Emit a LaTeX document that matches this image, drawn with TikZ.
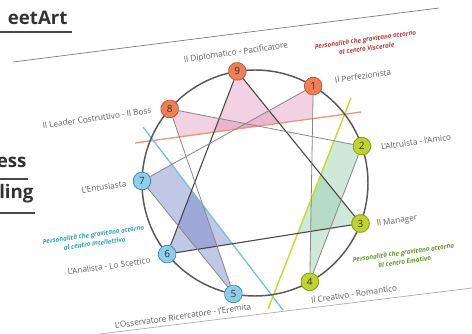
\documentclass[tikz,border=0pt]{standalone}
\usepackage{fontspec}
\setmainfont{Open Sans}
\usetikzlibrary{shapes.geometric}
\tikzset{every picture/.style={line width=0.75pt}}

\definecolor{visfill}{RGB}{238,128,88}
\definecolor{visdraw}{RGB}{196,86,58}
\definecolor{intfill}{RGB}{142,206,234}
\definecolor{intdraw}{RGB}{72,140,178}
\definecolor{emofill}{RGB}{190,212,44}
\definecolor{emodraw}{RGB}{132,156,28}
\definecolor{ringgray}{RGB}{88,88,88}
\definecolor{labgray}{RGB}{95,95,95}
\definecolor{viscred}{RGB}{196,52,52}
\definecolor{intblue}{RGB}{40,160,200}
\definecolor{emogreen}{RGB}{96,150,40}

\tikzset{
  numbox/.style={regular polygon, regular polygon sides=8, rounded corners=1.2pt, minimum size=14pt, inner sep=0pt, line width=0.6pt, text={rgb,255:red,60;green,50;blue,40}, font=\fontsize{7.5}{8}\selectfont},
  visc/.style={numbox, draw=visdraw, fill=visfill},
  intel/.style={numbox, draw=intdraw, fill=intfill},
  emot/.style={numbox, draw=emodraw, fill=emofill},
  tipo/.style={text=labgray, font=\fontsize{6.2}{7}\selectfont, rotate=8, inner sep=0.75pt},
  centro/.style={font=\fontsize{4.8}{6.8}\selectfont\itshape\bfseries, rotate=8, align=center, inner sep=0.75pt},
  webfrag/.style={text={rgb,255:red,50;green,50;blue,50}, font=\fontsize{14}{16}\selectfont\bfseries, inner sep=0pt},
  tri/.style={color={rgb,255:red,70;green,70;blue,70}, line width=0.8},
  hex/.style={color={rgb,255:red,135;green,135;blue,135}, line width=0.6},
  pinkfill/.style={fill={rgb,255:red,222;green,140;blue,182}, fill opacity=0.4},
  bluefill/.style={fill={rgb,255:red,118;green,132;blue,200}, fill opacity=0.45},
  greenfill/.style={fill={rgb,255:red,150;green,205;blue,172}, fill opacity=0.45}
}

\begin{document}
\begin{tikzpicture}[x=0.75pt,y=0.75pt,yscale=-1,xscale=1]
\useasboundingbox (0,0) rectangle (472,334);

%Straight Lines: sheet edges
\draw [color={rgb,255:red,120;green,120;blue,120}, line width=0.5] (13,62) -- (439,8) ;
\draw [color={rgb,255:red,170;green,170;blue,170}, line width=0.5] (100,334) -- (472,288) ;

% Text Node: page fragments
\node [webfrag, anchor=base east] (w1) at (68,25) {eetArt};
\draw [color={rgb,255:red,70;green,70;blue,70}, line width=0.8] (0,32) -- (72,32) ;
\node [webfrag, anchor=base east] (w2) at (27,168) {ess};
\draw [color={rgb,255:red,70;green,70;blue,70}, line width=0.8] (0,179) -- (28,179) ;
\node [webfrag, anchor=base east] (w3) at (34,199) {ling};
\draw [color={rgb,255:red,70;green,70;blue,70}, line width=0.8] (0,213) -- (35,213) ;

% Coordinates of the nine points
\coordinate (c9) at (237.3,71.4) ;
\coordinate (c1) at (313.2,86.1) ;
\coordinate (c2) at (361.8,146.2) ;
\coordinate (c3) at (360.5,223.5) ;
\coordinate (c4) at (309.8,281.8) ;
\coordinate (c5) at (233.4,293.9) ;
\coordinate (c6) at (167.2,254.1) ;
\coordinate (c7) at (142,181) ;
\coordinate (c8) at (169.7,108.9) ;
% ends of the three separation lines
\coordinate (vA) at (135,143) ;
\coordinate (vB) at (361,112) ;
\coordinate (iA) at (143,127) ;
\coordinate (iB) at (283,310) ;
\coordinate (eA) at (351,98) ;
\coordinate (eB) at (268,309) ;

%Shape: shaded wedges
\fill [pinkfill] (c8) -- (intersection of c8--c2 and vA--vB) -- (intersection of c8--c5 and vA--vB) -- cycle ;
\fill [pinkfill] (c9) -- (intersection of c9--c6 and vA--vB) -- (intersection of c9--c3 and vA--vB) -- cycle ;
\fill [pinkfill] (c1) -- (intersection of c1--c7 and vA--vB) -- (intersection of c1--c4 and vA--vB) -- cycle ;
\fill [bluefill] (c7) -- (intersection of c7--c1 and iA--iB) -- (intersection of c5--c8 and iA--iB) -- (c5) -- cycle ;
\fill [bluefill] (c6) -- (intersection of c6--c9 and iA--iB) -- (intersection of c6--c3 and iA--iB) -- cycle ;
\fill [greenfill] (c2) -- (intersection of c2--c8 and eA--eB) -- (intersection of c4--c1 and eA--eB) -- (c4) -- cycle ;
\fill [greenfill] (c3) -- (intersection of c3--c9 and eA--eB) -- (intersection of c3--c6 and eA--eB) -- cycle ;

%Straight Lines: separation lines
\draw [color={rgb,255:red,238;green,150;blue,118}, line width=1] (vA) -- (vB) ;
\draw [color={rgb,255:red,112;green,196;blue,224}, line width=1] (iA) -- (iB) ;
\draw [color={rgb,255:red,196;green,220;blue,52}, line width=1.1] (eA) -- (eB) ;

%Shape: Circle
\draw [color=ringgray, line width=1.1] (255,183) circle [radius=113] ;

% Points
\node [visc] (p9) at (c9) {9};
\node [visc] (p1) at (c1) {1};
\node [emot] (p2) at (c2) {2};
\node [emot] (p3) at (c3) {3};
\node [emot] (p4) at (c4) {4};
\node [intel] (p5) at (c5) {5};
\node [intel] (p6) at (c6) {6};
\node [intel] (p7) at (c7) {7};
\node [visc] (p8) at (c8) {8};

%Straight Lines: triangle
\draw [tri] (p9) -- (p3) ;
\draw [tri] (p3) -- (p6) ;
\draw [tri] (p6) -- (p9) ;
%Straight Lines: hexad
\draw [hex] (p1) -- (p4) ;
\draw [hex] (p4) -- (p2) ;
\draw [hex] (p2) -- (p8) ;
\draw [hex] (p8) -- (p5) ;
\draw [hex] (p5) -- (p7) ;
\draw [hex] (p7) -- (p1) ;

% Text Node
\node [tipo] (l9) at (236,53) {Il Diplomatico - Pacificatore};
\node [tipo] (l1) at (363,76) {Il Perfezionista};
\node [tipo] (l2) at (416,142) {L'Altruista - l'Amico};
\node [tipo] (l3) at (397,221) {Il Manager};
\node [tipo] (l4) at (354,294) {Il Creativo - Romantico};
\node [tipo] (l5) at (183,316) {L'Osservatore Ricercatore - l'Eremita};
\node [tipo] (l6) at (109,266) {L'Analista - Lo Scettico};
\node [tipo] (l7) at (104,187) {L'Entusiasta};
\node [tipo] (l8) at (97,118) {Il Leader Costruttivo - Il Boss};
% Text Node
\node [centro, text=viscred] (tv) at (366,44) {Personalità che gravitano attorno\\al centro Viscerale};
\node [centro, text=intblue] (ti) at (94,239) {Personalità che gravitano attorno\\al centro Intellettivo};
\node [centro, text=emogreen] (te) at (404,257) {Personalità che gravitano attorno\\al centro Emotivo};

\end{tikzpicture}
\end{document}
